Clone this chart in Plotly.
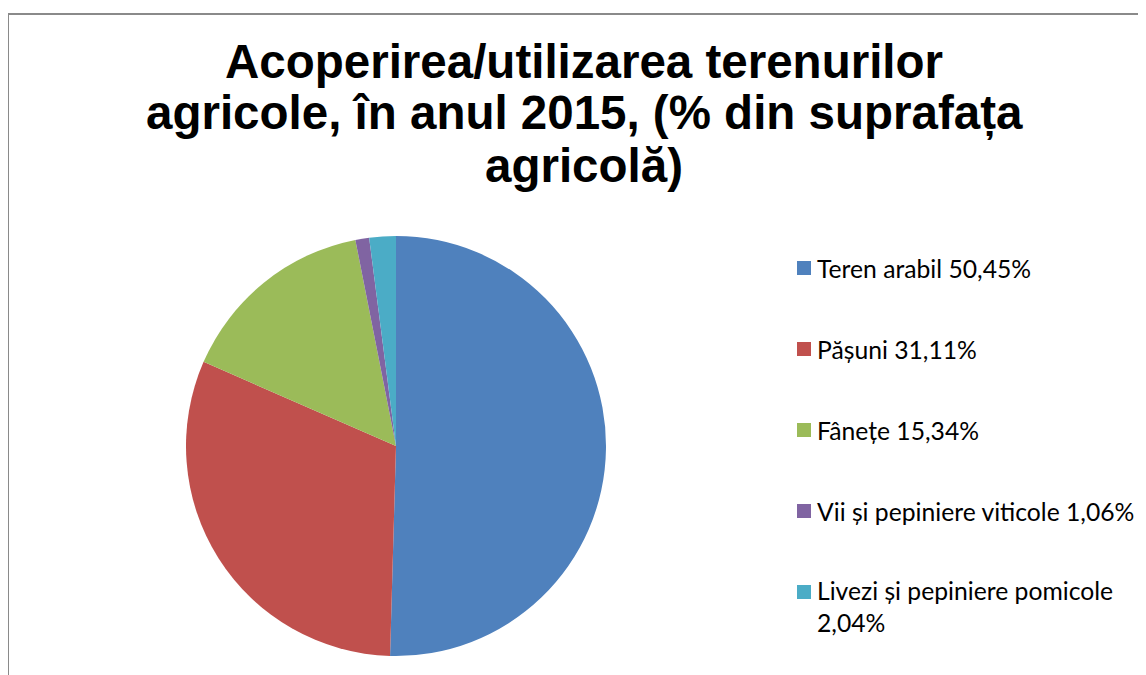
import plotly.graph_objects as go

W, H = 1146, 675
OFF = 8  # page body margin

title_lines = ["Acoperirea/utilizarea terenurilor",
               "agricole, în anul 2015, (% din suprafața",
               "agricolă)"]
labels = ["Teren arabil", "Pășuni", "Fânețe",
          "Vii și pepiniere viticole", "Livezi și pepiniere pomicole"]
values = [50.45, 31.11, 15.34, 1.06, 2.04]
colors = ["#4F81BD", "#C0504D", "#9BBB59", "#8064A2", "#4BACC6"]

# geometry (pixels in the screenshot)
cx, cy, r = 396, 446, 210

def px(x):
    return (x - OFF) / W

def py(y):
    return 1 - (y - OFF) / H

fig = go.Figure()
fig.add_trace(go.Pie(
    labels=labels, values=values, sort=False, direction="clockwise",
    rotation=0, textinfo="none", hoverinfo="label+percent",
    marker=dict(colors=colors, line=dict(width=0)),
    showlegend=False,
    domain=dict(x=[px(cx - r), px(cx + r)], y=[py(cy + r), py(cy - r)]),
))

shapes = [
    dict(type="line", xref="paper", yref="paper", x0=px(8), x1=px(8), y0=py(13), y1=py(H + 20),
         line=dict(color="#8a8a8a", width=2)),
    dict(type="line", xref="paper", yref="paper", x0=px(8), x1=px(W + 20), y0=py(14), y1=py(14),
         line=dict(color="#8a8a8a", width=2)),
]
annotations = []

# title lines
title_y = [62, 113, 165]
for t, yy in zip(title_lines, title_y):
    annotations.append(dict(text="<b>%s</b>" % t, x=px(584), y=py(yy), xref="paper", yref="paper",
                            xanchor="center", yanchor="middle", showarrow=False,
                            font=dict(family="Liberation Sans, Arial", size=47.5, color="#000")))

# legend
leg_y0, leg_step = 268, 81
lfont = dict(family="Lato, Liberation Sans", size=24.7, color="#000")
for i, (lab, v, c) in enumerate(zip(labels, values, colors)):
    yc = leg_y0 + i * leg_step
    shapes.append(dict(type="rect", xref="paper", yref="paper",
                       x0=px(797), x1=px(811), y0=py(yc + 7), y1=py(yc - 7),
                       fillcolor=c, line=dict(width=0)))
    pct = ("%.2f%%" % v).replace(".", ",")
    txt = "%s %s" % (lab, pct)
    if len(txt) > 32:
        txt = "%s<br>%s" % (lab, pct)
        annotations.append(dict(text=txt, x=px(815), y=py(yc - 18), xref="paper", yref="paper",
                                xanchor="left", yanchor="top", align="left", showarrow=False,
                                font=lfont))
    else:
        annotations.append(dict(text=txt, x=px(815), y=py(yc), xref="paper", yref="paper",
                                xanchor="left", yanchor="middle", showarrow=False,
                                font=lfont))

fig.update_layout(width=W, height=H, margin=dict(l=0, r=0, t=0, b=0),
                  paper_bgcolor="white", plot_bgcolor="white",
                  shapes=shapes, annotations=annotations)
fig.write_html("out.html")
